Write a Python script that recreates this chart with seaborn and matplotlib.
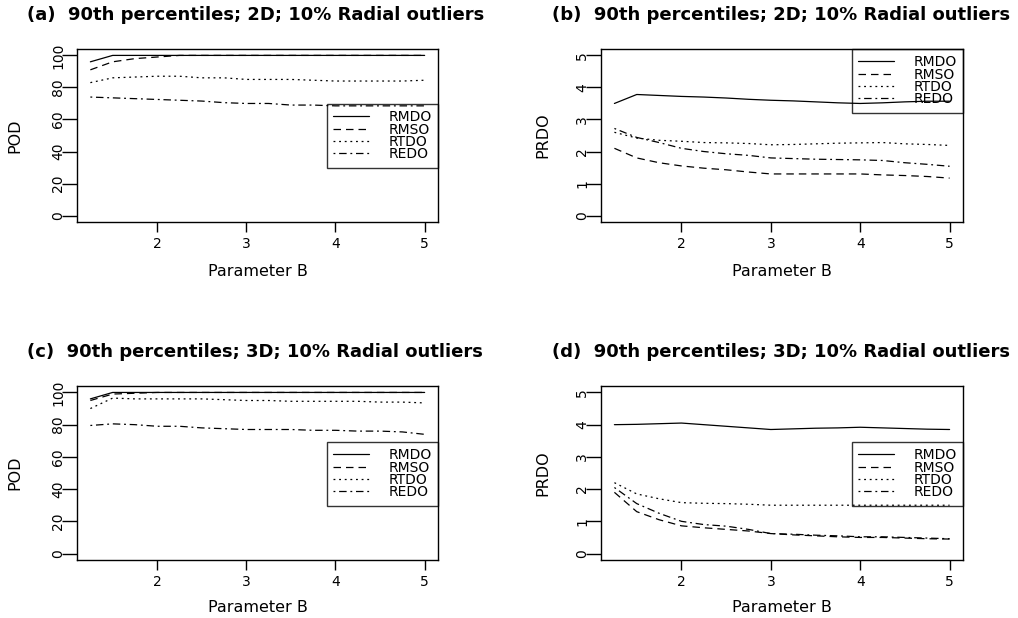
import numpy as np
import pandas as pd
import matplotlib
matplotlib.use("Agg")
import matplotlib.pyplot as plt
from matplotlib.lines import Line2D
import seaborn as sns

# ---------------- data ----------------
B = [1.25, 1.5, 1.75, 2, 2.25, 2.5, 2.75, 3, 3.25, 3.5, 3.75, 4, 4.25, 4.5, 4.75, 5]
methods = ["RMDO", "RMSO", "RTDO", "REDO"]

# (a) POD, 2D
a_RMDO = [96, 100, 100, 100, 100, 100, 100, 100, 100, 100, 100, 100, 100, 100, 100, 100]
a_RMSO = [91, 96, 98, 99, 100, 100, 100, 100, 100, 100, 100, 100, 100, 100, 100, 100]
a_RTDO = [83, 86, 86.5, 87, 87, 86, 86, 85, 85, 85, 84.5, 84, 84, 84, 84, 84.5]
a_REDO = [74, 73.5, 73, 72.5, 72, 71.5, 70.5, 70, 70, 69, 69, 68.5, 68.5, 68.5, 68.5, 68.5]

# (b) PRDO, 2D
b_RMDO = [3.5, 3.78, 3.75, 3.72, 3.7, 3.67, 3.63, 3.6, 3.58, 3.55, 3.52, 3.5, 3.52, 3.55, 3.57, 3.57]
b_RMSO = [2.1, 1.8, 1.65, 1.55, 1.48, 1.43, 1.36, 1.3, 1.3, 1.3, 1.3, 1.3, 1.27, 1.25, 1.22, 1.17]
b_RTDO = [2.6, 2.42, 2.35, 2.32, 2.28, 2.27, 2.25, 2.21, 2.22, 2.24, 2.26, 2.27, 2.28, 2.24, 2.22, 2.19]
b_REDO = [2.72, 2.44, 2.28, 2.1, 2.0, 1.93, 1.88, 1.8, 1.78, 1.76, 1.75, 1.74, 1.72, 1.65, 1.6, 1.54]

# (c) POD, 3D
c_RMDO = [96, 100, 100, 100, 100, 100, 100, 100, 100, 100, 100, 100, 100, 100, 100, 100]
c_RMSO = [95, 99, 99.5, 100, 100, 100, 100, 100, 100, 100, 100, 100, 100, 100, 100, 100]
c_RTDO = [90, 96.5, 96, 96, 96, 96, 95.5, 95, 95, 94.5, 94.5, 94.5, 94.5, 94, 94, 93.5]
c_REDO = [79.5, 80.5, 80, 79, 79, 78, 77.5, 77, 77, 77, 76.5, 76.5, 76, 76, 75.5, 74]

# (d) PRDO, 3D
d_RMDO = [4.0, 4.01, 4.03, 4.05, 4.0, 3.95, 3.9, 3.85, 3.87, 3.89, 3.9, 3.92, 3.9, 3.88, 3.86, 3.85]
d_RMSO = [1.9, 1.3, 1.05, 0.86, 0.8, 0.75, 0.7, 0.62, 0.58, 0.55, 0.52, 0.5, 0.5, 0.48, 0.46, 0.45]
d_RTDO = [2.2, 1.85, 1.7, 1.58, 1.56, 1.55, 1.53, 1.5, 1.5, 1.5, 1.5, 1.5, 1.5, 1.5, 1.5, 1.5]
d_REDO = [2.05, 1.55, 1.25, 1.0, 0.9, 0.85, 0.75, 0.62, 0.6, 0.57, 0.55, 0.52, 0.52, 0.5, 0.48, 0.46]

titles = [
    "(a)  90th percentiles; 2D; 10% Radial outliers",
    "(b)  90th percentiles; 2D; 10% Radial outliers",
    "(c)  90th percentiles; 3D; 10% Radial outliers",
    "(d)  90th percentiles; 3D; 10% Radial outliers",
]
ylabels = ["POD", "PRDO", "POD", "PRDO"]
xlabel = "Parameter B"
xticks = [2, 3, 4, 5]
pod_ticks = [0, 20, 40, 60, 80, 100]
prdo_ticks = [0, 1, 2, 3, 4, 5]

# ---------------- style ----------------
sns.set_theme(style="ticks")
plt.rcParams["font.family"] = ["DejaVu Sans"]
for k in ["text.color", "axes.labelcolor", "xtick.color", "ytick.color", "axes.edgecolor"]:
    plt.rcParams[k] = "black"
plt.rcParams["axes.linewidth"] = 1.0

dashes = {"RMDO": "", "RMSO": (6, 4), "RTDO": (1.5, 3), "REDO": (1.5, 3, 6, 3)}

def long_df(series):
    rows = []
    for m, vals in zip(methods, series):
        for b, v in zip(B, vals):
            rows.append({"B": b, "value": v, "method": m})
    return pd.DataFrame(rows)

panels = [
    (long_df([a_RMDO, a_RMSO, a_RTDO, a_REDO]), (-4, 104), pod_ticks, 0.682),
    (long_df([b_RMDO, b_RMSO, b_RTDO, b_REDO]), (-0.2, 5.2), prdo_ticks, 1.0),
    (long_df([c_RMDO, c_RMSO, c_RTDO, c_REDO]), (-4, 104), pod_ticks, 0.678),
    (long_df([d_RMDO, d_RMSO, d_RTDO, d_REDO]), (-0.2, 5.2), prdo_ticks, 0.678),
]

W, H = 1018, 618
fig = plt.figure(figsize=(W / 100, H / 100), dpi=100)
fig.patch.set_facecolor("white")

# axes boxes in pixels: (left, top, right, bottom)
boxes = [(77, 49, 438, 222), (601, 49, 963, 222), (77, 386, 438, 560), (601, 386, 963, 560)]
title_pos = [(27, 15), (552, 15), (27, 352), (552, 352)]
xlab_y = [-0.245, -0.245, -0.232, -0.232]
ylab_x = [-0.15, -0.141, -0.15, -0.141]

for i, (df, ylim, yt, legtop) in enumerate(panels):
    l, t, r, b = boxes[i]
    ax = fig.add_axes([l / W, 1 - b / H, (r - l) / W, (b - t) / H])
    sns.lineplot(data=df, x="B", y="value", style="method", style_order=methods,
                 dashes=dashes, color="black", linewidth=0.9, ax=ax, legend=False)
    ax.set_xlim(1.1, 5.15)
    ax.set_ylim(*ylim)
    ax.set_xticks(xticks)
    ax.set_xticklabels([str(v) for v in xticks])
    ax.set_yticks(yt)
    ax.set_yticklabels([str(v) for v in yt], rotation=90, va="center")
    ax.tick_params(axis="x", direction="out", length=7, width=1, pad=4, labelsize=10)
    ax.tick_params(axis="y", direction="out", length=10.5, width=1, pad=-2, labelsize=10)
    for s in ax.spines.values():
        s.set_visible(True)
        s.set_color("black")
        s.set_linewidth(1.0)
    ax.set_xlabel(xlabel, fontsize=11.5)
    ax.set_ylabel(ylabels[i], fontsize=11.5)
    ax.xaxis.set_label_coords(0.5, xlab_y[i])
    ax.yaxis.set_label_coords(ylab_x[i], 0.5)
    ax.set_facecolor("white")

    handles = [Line2D([], [], color="black", linewidth=0.9,
                      linestyle="-" if dashes[m] == "" else (0, dashes[m])) for m in methods]
    leg = ax.legend(handles, methods, loc="upper right", bbox_to_anchor=(1.0, legtop),
                    borderaxespad=0, fontsize=10, frameon=True, fancybox=False,
                    facecolor="none", framealpha=None, edgecolor="black", handlelength=2.6,
                    handletextpad=1.4, labelspacing=-0.12, borderpad=0.45)
    leg.get_frame().set_linewidth(1.0)
    leg.get_frame().set_facecolor("none")

    tx, ty = title_pos[i]
    fig.text(tx / W, 1 - ty / H, titles[i], fontsize=13, fontweight="bold",
             ha="left", va="center")

fig.savefig("out.png", dpi=100, facecolor="white")
